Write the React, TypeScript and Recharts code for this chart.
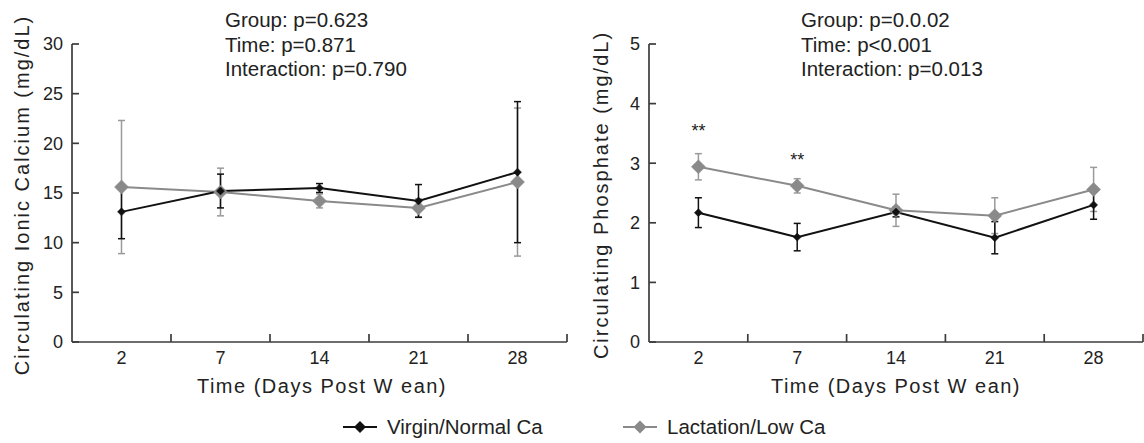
import React from 'react';
import { ComposedChart, Line, XAxis, YAxis, ErrorBar, Scatter } from 'recharts';

const days = ['2', '7', '14', '21', '28'];
const seriesNames = ['Virgin/Normal Ca', 'Lactation/Low Ca'];

const caVirgin = [13.1, 15.2, 15.5, 14.2, 17.1];
const caVirginErr = [2.7, 1.7, 0.45, 1.65, 7.1];
const caLact = [15.6, 15.1, 14.2, 13.5, 16.1];
const caLactErr = [6.7, 2.4, 0.7, 0.9, 7.45];
const caTicks = [0, 5, 10, 15, 20, 25, 30];
const caStats = ['Group: p=0.623', 'Time: p=0.871', 'Interaction: p=0.790'];

const pVirgin = [2.17, 1.76, 2.18, 1.75, 2.3];
const pVirginErr = [0.25, 0.23, 0.08, 0.27, 0.24];
const pLact = [2.94, 2.62, 2.21, 2.12, 2.56];
const pLactErr = [0.22, 0.12, 0.27, 0.3, 0.37];
const pSigLevel = [3.59, 3.1, null, null, null];
const pSigMark = ['**', '**', '', '', ''];
const pTicks = [0, 1, 2, 3, 4, 5];
const pStats = ['Group: p=0.0.02', 'Time: p<0.001', 'Interaction: p=0.013'];

const FONT = '"Liberation Sans", Arial, Helvetica, sans-serif';
const TEXT = '#222';
const AXIS = '#3c3c3c';
const BLACK = '#111';
const GRAY = '#8a8a8a';
const GRAY_ERR = '#9a9a9a';

const H = 443;
const TOP = 44;
const XAXIS_H = 30;
const BOTTOM = H - 342 - XAXIS_H;

const diamond = (cx: number, cy: number, r: number) =>
  `M${cx},${cy - r} L${cx + r},${cy} L${cx},${cy + r} L${cx - r},${cy} Z`;

const makeDot = (r: number, fill: string) => (p: any) => {
  if (p.cx == null || p.cy == null) return <g key={p.index} />;
  return <path key={p.index} d={diamond(p.cx, p.cy, r)} fill={fill} stroke={fill} strokeWidth={0.5} />;
};

const makeXTick = (band: number) => (props: any) => {
  const { x, y, payload } = props;
  return (
    <g>
      <text x={x} y={y + 22} textAnchor="middle" fontSize={18} fill={TEXT} fontFamily={FONT}>
        {payload.value}
      </text>
      <line x1={x + band / 2} x2={x + band / 2} y1={y} y2={y - 8} stroke={AXIS} strokeWidth={1.7} />
    </g>
  );
};

const YTick = (props: any) => {
  const { x, y, payload } = props;
  return (
    <g>
      <text x={x - 9} y={y} dy="0.36em" textAnchor="end" fontSize={18} fill={TEXT} fontFamily={FONT}>
        {payload.value}
      </text>
      <line x1={x} x2={x + 7} y1={y} y2={y} stroke={AXIS} strokeWidth={1.7} />
    </g>
  );
};

const SigMark = (props: any) => {
  const { cx, cy, payload } = props;
  if (cx == null || cy == null || !payload.sig) return <g />;
  return (
    <text x={cx} y={cy + 9} textAnchor="middle" fontSize={18} fill={TEXT} fontFamily={FONT}>
      {payload.sig}
    </text>
  );
};

type PanelProps = {
  left: number;
  width: number;
  yWidth: number;
  right: number;
  data: any[];
  domain: [number, number];
  ticks: number[];
  withSig?: boolean;
};

function Panel({ left, width, yWidth, right, data, domain, ticks, withSig }: PanelProps) {
  const band = (width - yWidth - right) / days.length;
  return (
    <div style={{ position: 'absolute', left, top: 0 }}>
      <ComposedChart
        width={width}
        height={H}
        data={data}
        margin={{ top: TOP, right, bottom: BOTTOM, left: 0 }}
      >
        <XAxis
          dataKey="day"
          scale="band"
          height={XAXIS_H}
          interval={0}
          tickLine={false}
          tickSize={0}
          tickMargin={0}
          axisLine={{ stroke: AXIS, strokeWidth: 1.7 }}
          tick={makeXTick(band)}
        />
        <YAxis
          width={yWidth}
          domain={domain}
          ticks={ticks}
          interval={0}
          tickLine={false}
          tickSize={0}
          tickMargin={0}
          axisLine={{ stroke: AXIS, strokeWidth: 1.7 }}
          tick={YTick}
        />
        <Line
          dataKey="l"
          name={seriesNames[1]}
          stroke={GRAY}
          strokeWidth={2}
          isAnimationActive={false}
          dot={makeDot(7, GRAY)}
          activeDot={false}
        >
          <ErrorBar dataKey="lErr" width={3.5} stroke={GRAY_ERR} strokeWidth={1.5} direction="y" />
        </Line>
        <Line
          dataKey="v"
          name={seriesNames[0]}
          stroke={BLACK}
          strokeWidth={2}
          isAnimationActive={false}
          dot={makeDot(4, BLACK)}
          activeDot={false}
        >
          <ErrorBar dataKey="vErr" width={3.5} stroke={BLACK} strokeWidth={1.5} direction="y" />
        </Line>
        {withSig ? (
          <Scatter dataKey="sigY" isAnimationActive={false} shape={SigMark} />
        ) : null}
      </ComposedChart>
    </div>
  );
}

const caData = days.map((d, i) => ({
  day: d,
  v: caVirgin[i],
  vErr: caVirginErr[i],
  l: caLact[i],
  lErr: caLactErr[i],
}));

const pData = days.map((d, i) => ({
  day: d,
  v: pVirgin[i],
  vErr: pVirginErr[i],
  l: pLact[i],
  lErr: pLactErr[i],
  sigY: pSigLevel[i],
  sig: pSigMark[i],
}));

const textStyle = { fontFamily: FONT, fill: TEXT } as const;

function Stats({ x, lines }: { x: number; lines: string[] }) {
  return (
    <g>
      {lines.map((t, i) => (
        <text key={t} x={x} y={27 + i * 24.5} fontSize={20.5} {...textStyle}>
          {t}
        </text>
      ))}
    </g>
  );
}

function LegendItem({ x, color, r, label }: { x: number; color: string; r: number; label: string }) {
  const y = 427;
  return (
    <g>
      <line x1={x} x2={x + 34} y1={y} y2={y} stroke={color} strokeWidth={2} />
      <path d={diamond(x + 17, y, r)} fill={color} />
      <text x={x + 44} y={y + 7} fontSize={20.5} {...textStyle}>
        {label}
      </text>
    </g>
  );
}

export default function App() {
  return (
    <div style={{ position: 'absolute', left: 0, top: 0, width: 1144, height: H, background: '#fff', overflow: 'hidden' }}>
      <Panel left={0} width={580} yWidth={72} right={13} data={caData} domain={[0, 30]} ticks={caTicks} />
      <Panel left={575} width={569} yWidth={74} right={1} data={pData} domain={[0, 5]} ticks={pTicks} withSig />
      <svg
        width={1144}
        height={H}
        style={{ position: 'absolute', left: 0, top: 0, pointerEvents: 'none' }}
      >
        <text
          x={22}
          y={195}
          transform="rotate(-90, 22, 195)"
          textAnchor="middle"
          dominantBaseline="central"
          fontSize={20}
          letterSpacing={2}
          {...textStyle}
        >
          Circulating Ionic Calcium (mg/dL)
        </text>
        <text
          x={601}
          y={195}
          transform="rotate(-90, 601, 195)"
          textAnchor="middle"
          dominantBaseline="central"
          fontSize={20}
          letterSpacing={2}
          {...textStyle}
        >
          Circulating Phosphate (mg/dL)
        </text>
        <text x={322} y={393} textAnchor="middle" fontSize={20} letterSpacing={1.5} {...textStyle}>
          Time (Days Post W ean)
        </text>
        <text x={896} y={393} textAnchor="middle" fontSize={20} letterSpacing={1.5} {...textStyle}>
          Time (Days Post W ean)
        </text>
        <Stats x={225} lines={caStats} />
        <Stats x={801} lines={pStats} />
        <LegendItem x={343} color={BLACK} r={6} label={seriesNames[0]} />
        <LegendItem x={623} color={GRAY} r={6.5} label={seriesNames[1]} />
      </svg>
    </div>
  );
}
